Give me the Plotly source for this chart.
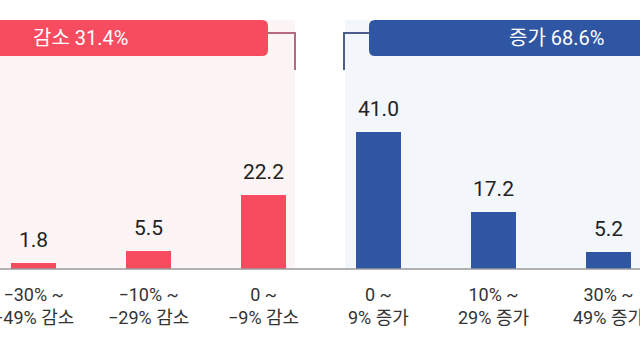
import plotly.graph_objects as go

categories = ["−30% ~<br>−49% 감소", "−10% ~<br>−29% 감소", "0 ~<br>−9% 감소",
              "0 ~<br>9% 증가", "10% ~<br>29% 증가", "30% ~<br>49% 증가"]
values = [1.8, 5.5, 22.2, 41.0, 17.2, 5.2]
value_labels = ["1.8", "5.5", "22.2", "41.0", "17.2", "5.2"]
group_labels = ["감소 31.4%", "증가 68.6%"]

RED = "#F74B60"
BLUE = "#2F56A2"
FONT = "Roboto, Noto Sans CJK KR"

W, H = 640, 360
X0, DX = 33.0, 115.0       # pixel centre of first bar, spacing
BASE, PPU = 269.0, 3.34    # baseline pixel, pixels per unit

def xd(px):
    return (px - X0) / DX

def yd(py):
    return (BASE - py) / PPU

xs = list(range(len(values)))
colors = [RED] * 3 + [BLUE] * 3

fig = go.Figure()
fig.add_trace(go.Bar(x=xs, y=values, marker=dict(color=colors, line=dict(width=0)),
                     width=45 / DX, hoverinfo="skip"))

shapes = []
# background panels
shapes.append(dict(type="rect", xref="x", yref="y", x0=xd(-10), x1=xd(295), y0=yd(20), y1=0,
                   fillcolor="#FDF5F5", line=dict(width=0), layer="below"))
shapes.append(dict(type="rect", xref="x", yref="y", x0=xd(345), x1=xd(660), y0=yd(20), y1=0,
                   fillcolor="#F3F6FB", line=dict(width=0), layer="below"))
# baseline
shapes.append(dict(type="line", xref="x", yref="y", x0=xd(-10), x1=xd(660), y0=0, y1=0,
                   line=dict(color="#9A9A9A", width=1.5)))
# header bars
shapes.append(dict(type="path", xref="x", yref="y",
                   path=f"M {xd(-20)},{yd(20)} L {xd(262)},{yd(20)} Q {xd(268)},{yd(20)} {xd(268)},{yd(26)} "
                        f"L {xd(268)},{yd(50)} Q {xd(268)},{yd(56)} {xd(262)},{yd(56)} L {xd(-20)},{yd(56)} Z",
                   fillcolor=RED, line=dict(width=0)))
shapes.append(dict(type="path", xref="x", yref="y",
                   path=f"M {xd(660)},{yd(20)} L {xd(375)},{yd(20)} Q {xd(369)},{yd(20)} {xd(369)},{yd(26)} "
                        f"L {xd(369)},{yd(50)} Q {xd(369)},{yd(56)} {xd(375)},{yd(56)} L {xd(660)},{yd(56)} Z",
                   fillcolor=BLUE, line=dict(width=0)))
# connectors
shapes.append(dict(type="path", xref="x", yref="y",
                   path=f"M {xd(268)},{yd(33)} L {xd(295)},{yd(33)} L {xd(295)},{yd(70)}",
                   line=dict(color="#B66A82", width=2)))
shapes.append(dict(type="path", xref="x", yref="y",
                   path=f"M {xd(369)},{yd(33)} L {xd(344)},{yd(33)} L {xd(344)},{yd(70)}",
                   line=dict(color="#4D5E8C", width=2)))

annotations = []
for x, v, t in zip(xs, values, value_labels):
    annotations.append(dict(x=x, y=v, text=t, showarrow=False, yanchor="bottom", yshift=9,
                            font=dict(family=FONT, size=21, color="#222222")))
for x, c in zip(xs, categories):
    annotations.append(dict(x=x, y=yd(306), text=c, showarrow=False, yanchor="middle",
                            font=dict(family=FONT, size=18, color="#333333")))
annotations.append(dict(x=xd(80), y=yd(38), text=group_labels[0], showarrow=False,
                        font=dict(family=FONT, size=20, color="white")))
annotations.append(dict(x=xd(556), y=yd(38), text=group_labels[1], showarrow=False,
                        font=dict(family=FONT, size=20, color="white")))

fig.update_layout(
    width=W, height=H, margin=dict(l=0, r=0, t=0, b=0),
    paper_bgcolor="white", plot_bgcolor="white",
    showlegend=False, shapes=shapes, annotations=annotations,
    xaxis=dict(range=[xd(0), xd(W)], visible=False, fixedrange=True),
    yaxis=dict(range=[yd(H), yd(0)], visible=False, fixedrange=True),
    bargap=0,
)
fig.write_html("out.html")
